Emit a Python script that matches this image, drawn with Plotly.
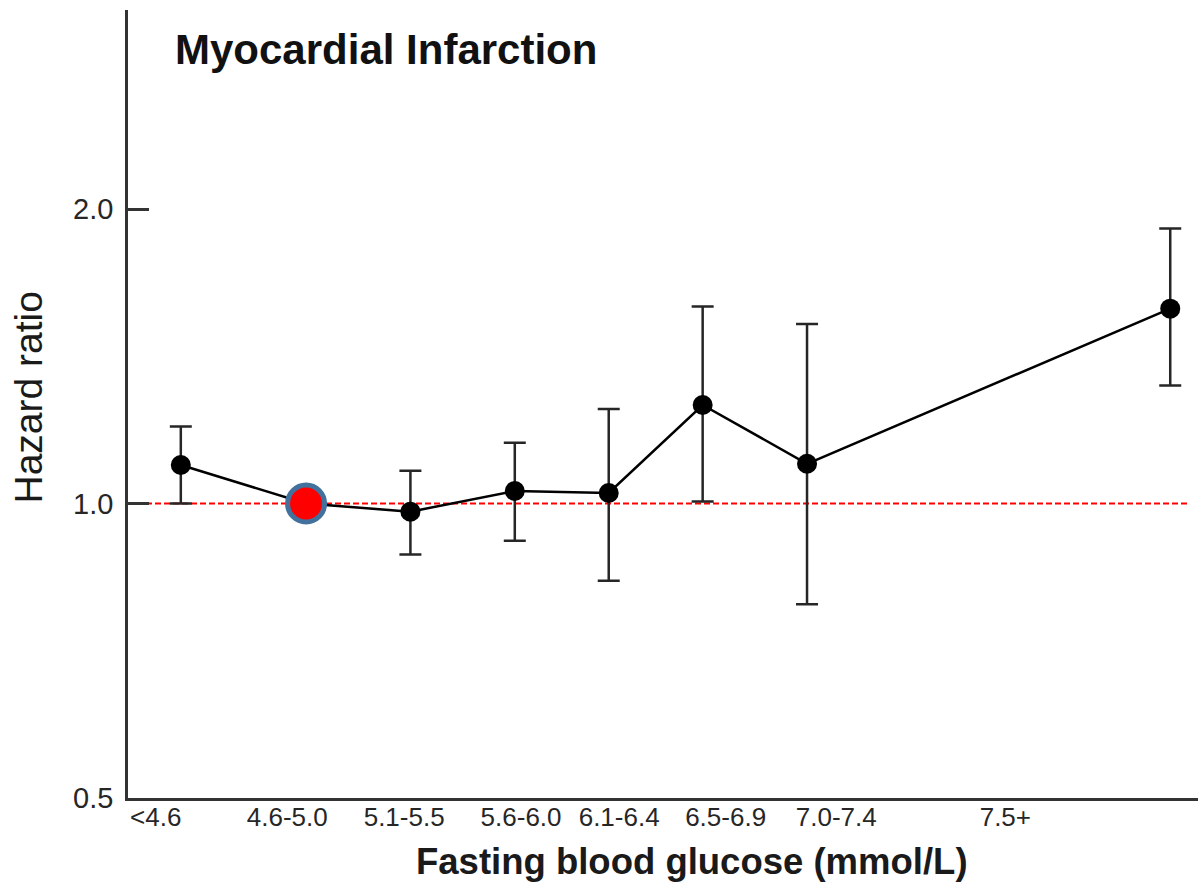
import plotly.graph_objects as go

# ---- data ----
groups = ["<4.6", "4.6-5.0", "5.1-5.5", "5.6-6.0", "6.1-6.4", "6.5-6.9", "7.0-7.4", "7.5+"]
glucose = [4.2, 4.8, 5.3, 5.8, 6.25, 6.7, 7.2, 8.94]          # x position (mmol/L)
hazard = [1.095, 1.0, 0.981, 1.030, 1.025, 1.261, 1.098, 1.582]
ci_upper = [1.199, 1.0, 1.080, 1.154, 1.249, 1.590, 1.526, 1.911]
ci_lower = [1.000, 1.0, 0.887, 0.916, 0.834, 1.005, 0.789, 1.320]
reference_group = "4.6-5.0"
label_pos = [4.08, 4.71, 5.27, 5.83, 6.30, 6.81, 7.34, 8.15]  # tick-label positions
y_ticks = [0.5, 1.0, 2.0]
y_tick_text = ["0.5", "1.0", "2.0"]

err_plus = [u - h for u, h in zip(ci_upper, hazard)]
err_minus = [h - l for h, l in zip(hazard, ci_lower)]

ref_i = groups.index(reference_group)

FONT = "Arial, Liberation Sans, sans-serif"
INK = "#262626"

fig = go.Figure()

fig.add_trace(go.Scatter(
    x=glucose, y=hazard, mode="lines+markers",
    line=dict(color="black", width=2.5),
    marker=dict(color="black", size=20),
    error_y=dict(type="data", symmetric=False, array=err_plus, arrayminus=err_minus,
                 color=INK, thickness=2.5, width=11),
    showlegend=False, hoverinfo="skip",
))

fig.add_trace(go.Scatter(
    x=[glucose[ref_i]], y=[hazard[ref_i]], mode="markers",
    marker=dict(color="#ff0000", size=37, line=dict(color="#41719c", width=5)),
    showlegend=False, hoverinfo="skip",
))

fig.add_shape(type="line", xref="paper", yref="y", x0=0, x1=0.99,
              y0=1.0, y1=1.0, line=dict(color="#ff0000", width=2, dash="6px,3px"),
              layer="below")

fig.add_annotation(text="<b>Myocardial Infarction</b>", xref="paper", yref="paper",
                   x=0.0425, y=0.950, xanchor="left", yanchor="middle", showarrow=False,
                   font=dict(family=FONT, size=42, color="#111111"))

fig.add_annotation(text="<b>Fasting blood glucose (mmol/L)</b>", xref="paper", yref="paper",
                   x=(691.5 - 128) / 1070, y=-0.081, xanchor="center", yanchor="middle",
                   showarrow=False, font=dict(family=FONT, size=36.5, color="#1a1a1a"))

fig.add_annotation(text="Hazard ratio", xref="paper", yref="paper",
                   x=(28 - 128) / 1070, y=(798 - 397.5) / 788, xanchor="center",
                   yanchor="middle", textangle=-90, showarrow=False,
                   font=dict(family=FONT, size=39, color="#1a1a1a"))

fig.update_layout(
    width=1198, height=891,
    margin=dict(l=128, r=0, t=10, b=93),
    paper_bgcolor="white", plot_bgcolor="white",
    font=dict(family=FONT, color=INK),
    xaxis=dict(
        range=[3.947, 9.073], showgrid=False, zeroline=False,
        showline=True, linecolor="#333333", linewidth=2.5,
        ticks="", tickmode="array", tickvals=label_pos, ticktext=groups,
        tickfont=dict(family=FONT, size=26, color=INK),
        ticklabelstandoff=-6,
    ),
    yaxis=dict(
        type="log", range=[-0.30103, 0.5045], showgrid=False, zeroline=False,
        showline=True, linecolor="#333333", linewidth=2.5,
        ticks="inside", ticklen=21, tickwidth=2.5, tickcolor="#333333",
        tickmode="array", tickvals=y_ticks, ticktext=y_tick_text,
        tickfont=dict(family=FONT, size=29, color=INK),
        ticklabelstandoff=6,
    ),
)

fig.write_html("out.html")
